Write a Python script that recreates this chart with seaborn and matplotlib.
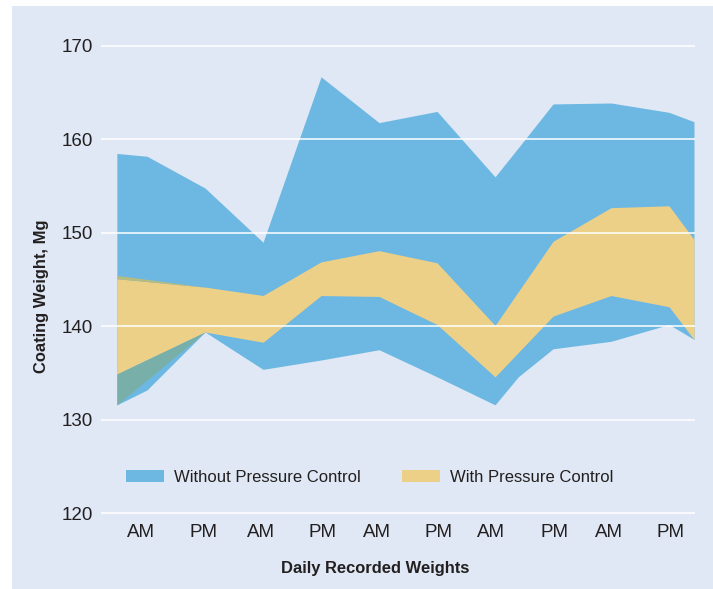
import numpy as np
import pandas as pd
import seaborn as sns
import matplotlib.pyplot as plt
from matplotlib.patches import Patch, Rectangle

# Readings (x in half-day slots, y in mg)
x_without = [-0.52, 0, 1, 2, 3, 4, 5, 6, 6.4, 7, 8, 9, 9.43]
without_high = [158.5, 158.2, 154.8, 149.0, 166.7, 161.8, 163.0, 156.0, 159.1, 163.8, 163.9, 162.9, 161.9]
without_low = [131.6, 133.2, 139.4, 135.4, 136.4, 137.5, 134.6, 131.6, 134.6, 137.6, 138.4, 140.2, 138.6]

x_with = [-0.52, 1, 2, 3, 4, 5, 6, 7, 8, 9, 9.43]
with_high = [145.1, 144.2, 143.3, 146.9, 148.1, 146.8, 140.1, 149.1, 152.7, 152.9, 149.3]
with_low = [134.9, 139.4, 138.3, 143.3, 143.2, 140.2, 134.6, 141.1, 143.3, 142.1, 138.6]

# overlap artefacts at the left edge
x_overlap = [-0.52, 1]
overlap_high = [134.9, 139.4]
overlap_low = [131.6, 139.4]
sliver_high = [145.45, 144.2]
sliver_low = [145.1, 144.2]

tick_pos = [-0.1, 0.98, 1.97, 3.03, 3.97, 5.03, 5.93, 7.02, 7.97, 9.03]
tick_labels = ['AM', 'PM', 'AM', 'PM', 'AM', 'PM', 'AM', 'PM', 'AM', 'PM']

df_without = pd.DataFrame({'x': x_without, 'low': without_low, 'high': without_high})
df_with = pd.DataFrame({'x': x_with, 'low': with_low, 'high': with_high})

blue = '#6db8e2'
yellow = '#edd087'
green = '#78afa8'
olive = '#b8bb7e'
panel = '#dfe8f4'
text_col = '#231f20'

sns.set_theme(style='white')
plt.rcParams['font.family'] = ['Liberation Sans', 'DejaVu Sans']

fig = plt.figure(figsize=(7.13, 5.89), dpi=100)
fig.patch.set_facecolor('white')
fig.patches.append(Rectangle((12 / 713, 0), 1, 1 - 6 / 589, transform=fig.transFigure,
                             facecolor=panel, edgecolor='none', zorder=-10))

ax = fig.add_axes([0.1417, 0.1238, 0.8331, 0.8029])
ax.set_facecolor(panel)
ax.patch.set_alpha(0)

ax.fill_between(df_without['x'], df_without['low'], df_without['high'], color=blue, lw=0)
ax.fill_between(df_with['x'], df_with['low'], df_with['high'], color=yellow, lw=0)
ax.fill_between(x_overlap, overlap_low, overlap_high, color=green, lw=0)
ax.fill_between(x_overlap, sliver_low, sliver_high, color=olive, lw=0)

ax.set_xlim(-0.793, 9.448)
ax.set_ylim(119.7, 170.3)
ax.set_yticks([120, 130, 140, 150, 160, 170])
ax.set_xticks(tick_pos)
ax.set_xticklabels(tick_labels)
ax.tick_params(axis='both', length=0, labelsize=13.5, colors=text_col)
ax.tick_params(axis='y', pad=5.6)
ax.tick_params(axis='x', pad=6)

ax.set_axisbelow(False)
ax.grid(axis='y', color='white', linewidth=1.1)
ax.grid(axis='x', visible=False)
sns.despine(ax=ax, left=True, bottom=True)

ax.set_ylabel('Coating Weight, Mg', fontsize=11.9, fontweight='bold', color=text_col)
ax.yaxis.set_label_coords(-0.087, 0.465)
ax.set_xlabel('Daily Recorded Weights', fontsize=11.9, fontweight='bold', color=text_col)
ax.xaxis.set_label_coords(0.462, -0.094)

handles = [Patch(facecolor=blue, edgecolor='none', label='Without Pressure Control'),
           Patch(facecolor=yellow, edgecolor='none', label='With Pressure Control')]
leg = ax.legend(handles=handles, loc='center left', bbox_to_anchor=(0.042, 0.0816),
                ncol=2, frameon=False, fontsize=12, handlelength=2.28, handleheight=0.78,
                handletextpad=0.6, columnspacing=2.5, borderpad=0, borderaxespad=0)
for t in leg.get_texts():
    t.set_color(text_col)

fig.savefig('out.png', dpi=100, facecolor=fig.get_facecolor())
